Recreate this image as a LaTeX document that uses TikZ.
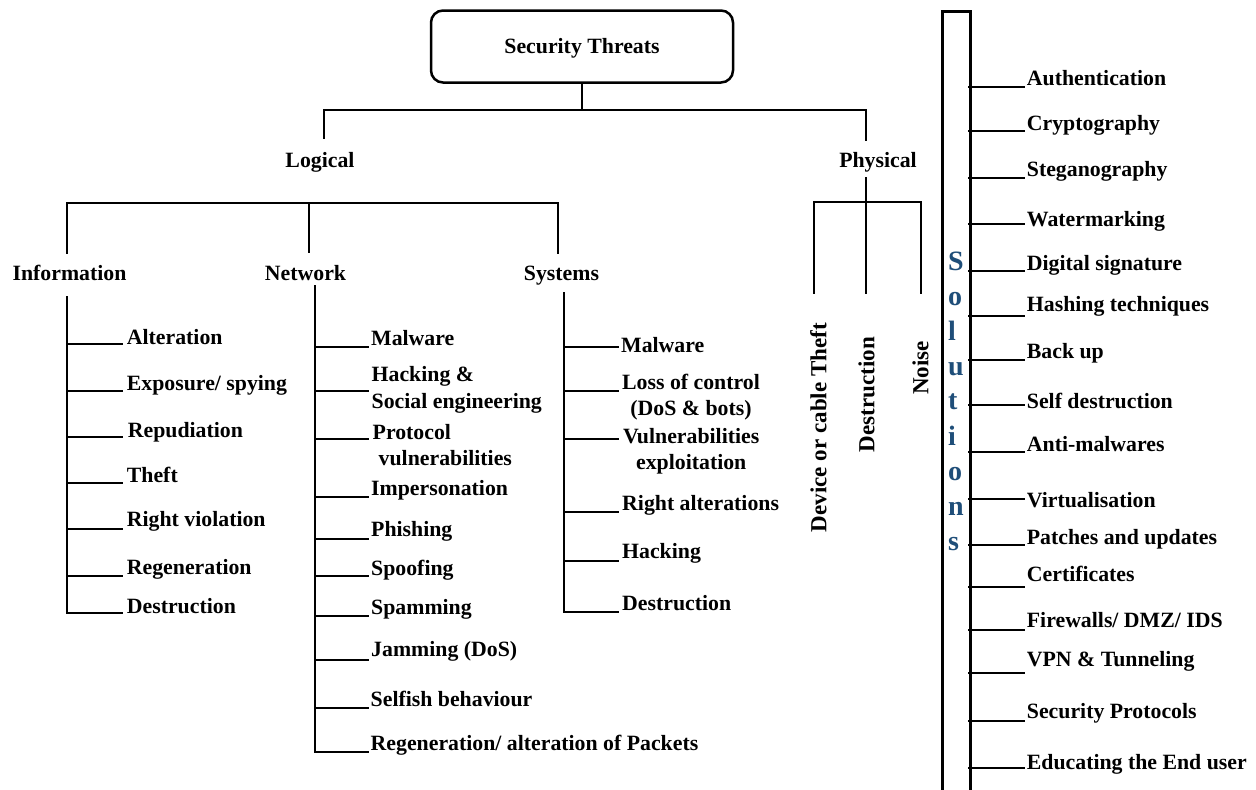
\documentclass[tikz,border=0pt]{standalone}
\usepackage{fontspec}
\setmainfont{Liberation Serif}
\definecolor{solblue}{RGB}{31,78,121}
\tikzset{
  ln/.style={line width=2.5pt, line join=miter, line cap=rect},
  lbl/.style={inner sep=0pt, font=\fontsize{21.8}{26.5}\selectfont\bfseries},
  rlbl/.style={inner sep=0pt, rotate=90, font=\fontsize{23}{27}\selectfont\bfseries},
  letter/.style={inner sep=0pt, anchor=base west, text=solblue,
    font=\fontsize{28}{30}\selectfont\bfseries},
  rootbox/.style={draw, line width=2.5pt, rounded corners=12pt,
    minimum width=302pt, minimum height=72pt, inner sep=0pt},
  solbox/.style={draw, line width=2.5pt, minimum width=28pt,
    minimum height=820pt, inner sep=0pt, anchor=north west}
}
% branch: name, trunk x, line y, line end x, text x, node options, text y, text
\newcommand\leaf[8]{%
  \coordinate (#1-a) at (#2,#3);
  \coordinate (#1-b) at (#4,#3);
  \node[lbl,#6] (#1) at (#5,#7) {#8};
  \draw[ln] (#1-a) -- (#1-b);
}
\begin{document}
\begin{tikzpicture}[x=1pt,y=-1pt]
\useasboundingbox (0,0) rectangle (1256,790);

% ---- root ----
\node[rootbox] (root) at (582,46.5) {};
\node[lbl, anchor=base] (rootText) at (582,53) {Security Threats};
\coordinate (rootJ) at (582,110);
\coordinate (barL) at (324,110);
\coordinate (barR) at (866,110);
\coordinate (lgT) at (324,138);
\coordinate (phT) at (866,140);
\draw[ln] (root.south) -- (rootJ);
\draw[ln] (lgT) -- (barL) -- (barR) -- (phT);

\node[lbl, anchor=base] (logical) at (320,167) {Logical};
\node[lbl, anchor=base] (physical) at (878,167) {Physical};

% ---- logical subtree ----
\coordinate (lbL) at (67,203);
\coordinate (lbM) at (309,203);
\coordinate (lbR) at (558,203);
\coordinate (infoT) at (67,253);
\coordinate (netT) at (309,252);
\coordinate (sysT) at (558,253);
\draw[ln] (infoT) -- (lbL) -- (lbR) -- (sysT);
\draw[ln] (lbM) -- (netT);

\node[lbl, anchor=base] (information) at (69.5,280) {Information};
\node[lbl, anchor=base] (network) at (305.5,280) {Network};
\node[lbl, anchor=base] (systems) at (561.5,280) {Systems};

% information threats
\leaf{i1}{67}{344}{122}{126.7}{anchor=base west}{344.3}{Alteration}
\leaf{i2}{67}{391}{122}{126.7}{anchor=base west}{390.7}{Exposure/ spying}
\leaf{i3}{67}{437}{122}{127.7}{anchor=base west}{437.7}{Repudiation}
\leaf{i4}{67}{483}{122}{126.7}{anchor=base west}{482.7}{Theft}
\leaf{i5}{67}{529}{122}{126.7}{anchor=base west}{526.7}{Right violation}
\leaf{i6}{67}{576}{122}{126.7}{anchor=base west}{574}{Regeneration}
\leaf{i7}{67}{613}{122}{126.7}{anchor=base west}{613.3}{Destruction}
\coordinate (infoTrunk) at (67,297);
\draw[ln] (infoTrunk) -- (i7-a);

% network threats
\leaf{n1}{315}{347}{368}{371}{anchor=base west}{345.7}{Malware}
\leaf{n2}{315}{391}{368}{371.5}{anchor=west, align=left}{389.9}{Hacking \&\\Social engineering}
\leaf{n3}{315}{439}{368}{372.5}{anchor=west, align=left}{445.2}{Protocol\\\hspace*{6pt}vulnerabilities}
\leaf{n4}{315}{497}{368}{371}{anchor=base west}{495}{Impersonation}
\leaf{n5}{315}{539}{368}{371}{anchor=base west}{536.7}{Phishing}
\leaf{n6}{315}{576}{368}{371}{anchor=base west}{575}{Spoofing}
\leaf{n7}{315}{616}{368}{371}{anchor=base west}{614.3}{Spamming}
\leaf{n8}{315}{660}{368}{371}{anchor=base west}{656}{Jamming (DoS)}
\leaf{n9}{315}{708}{368}{370.5}{anchor=base west}{706.7}{Selfish behaviour}
\leaf{n10}{315}{752}{368}{370.5}{anchor=base west}{750.7}{Regeneration/ alteration of Packets}
\coordinate (netTrunk) at (315,286);
\draw[ln] (netTrunk) -- (n10-a);

% system threats
\leaf{s1}{564}{347}{618}{621}{anchor=base west}{352.7}{Malware}
\leaf{s2}{564}{391}{618}{622}{anchor=west, align=center}{397}{Loss of control\\(DoS \& bots)}
\leaf{s3}{564}{439}{618}{623}{anchor=west, align=center}{451.5}{Vulnerabilities\\exploitation}
\leaf{s4}{564}{512}{618}{622}{anchor=base west}{510.7}{Right alterations}
\leaf{s5}{564}{561}{618}{622}{anchor=base west}{558.3}{Hacking}
\leaf{s6}{564}{612}{618}{622}{anchor=base west}{610}{Destruction}
\coordinate (sysTrunk) at (564,293);
\draw[ln] (sysTrunk) -- (s6-a);

% ---- physical subtree ----
\coordinate (phB) at (866,178);
\coordinate (phL) at (814,202);
\coordinate (phR) at (921,202);
\coordinate (devT) at (814,293);
\coordinate (desT) at (866,293);
\coordinate (noiT) at (921,293);
\draw[ln] (phB) -- (desT);
\draw[ln] (devT) -- (phL) -- (phR) -- (noiT);

\node[rlbl, anchor=east] (device) at (818.5,323) {Device or cable Theft};
\node[rlbl, anchor=east] (destruction) at (866.5,337) {Destruction};
\node[rlbl, anchor=east] (noise) at (920.5,341) {Noise};

% ---- solutions ----
\node[solbox] (sol) at (941,10) {};
\foreach \ch/\yy in {S/270, o/305, l/340, u/375, t/409.3, i/445, o/480, n/515, s/550}
  \node[letter] (sol-\ch-\yy) at (948,\yy) {\ch};

\leaf{r1}{969}{87}{1024}{1026.7}{anchor=base west}{85}{Authentication}
\leaf{r2}{969}{131}{1024}{1026.7}{anchor=base west}{130.7}{Cryptography}
\leaf{r3}{969}{178}{1024}{1026.7}{anchor=base west}{176.7}{Steganography}
\leaf{r4}{969}{224}{1024}{1026.7}{anchor=base west}{226.7}{Watermarking}
\leaf{r5}{969}{271}{1024}{1026.7}{anchor=base west}{270}{Digital signature}
\leaf{r6}{969}{316}{1024}{1026.7}{anchor=base west}{311.7}{Hashing techniques}
\leaf{r7}{969}{360}{1024}{1026.7}{anchor=base west}{358.3}{Back up}
\leaf{r8}{969}{405}{1024}{1026.7}{anchor=base west}{408.3}{Self destruction}
\leaf{r9}{969}{452}{1024}{1026.7}{anchor=base west}{451.7}{Anti-malwares}
\leaf{r10}{969}{499}{1024}{1026.7}{anchor=base west}{507.7}{Virtualisation}
\leaf{r11}{969}{545}{1024}{1026.7}{anchor=base west}{544}{Patches and updates}
\leaf{r12}{969}{587}{1024}{1026.7}{anchor=base west}{581.7}{Certificates}
\leaf{r13}{969}{630}{1024}{1026.7}{anchor=base west}{627.7}{Firewalls/ DMZ/ IDS}
\leaf{r14}{969}{673}{1024}{1026.7}{anchor=base west}{666}{VPN \& Tunneling}
\leaf{r15}{969}{721}{1024}{1026.7}{anchor=base west}{718.3}{Security Protocols}
\leaf{r16}{969}{768}{1024}{1026.7}{anchor=base west}{769.3}{Educating the End user}
\end{tikzpicture}
\end{document}
